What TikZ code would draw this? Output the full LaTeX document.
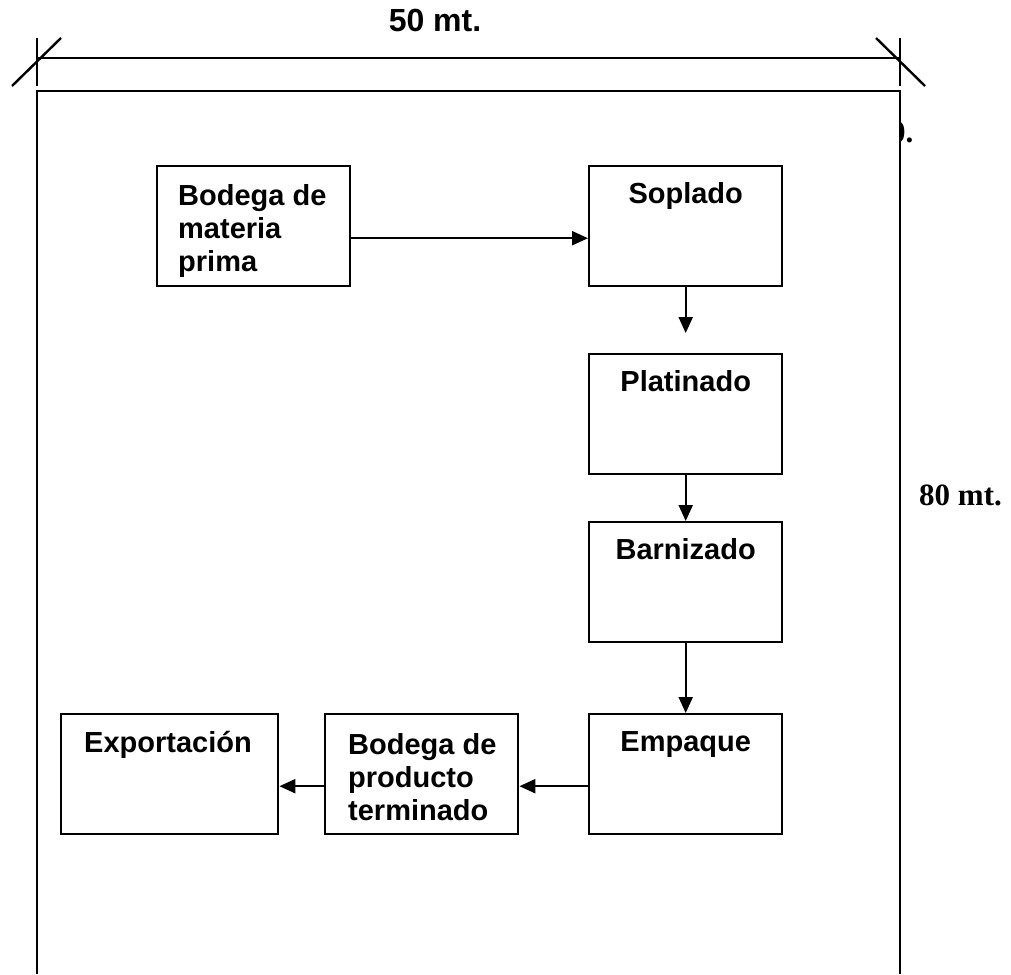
\documentclass[tikz,border=0pt]{standalone}
\usepackage{fontspec}
\setmainfont{Liberation Sans}
\newfontfamily\serifbold{Liberation Serif}
\usetikzlibrary{arrows.meta}
\begin{document}
\begin{tikzpicture}[x=1pt,y=-1pt,
  line width=2.4pt,
  procbox/.style={draw, rectangle, anchor=north west, inner sep=0pt,
    minimum width=193pt, minimum height=120pt},
  boxtext/.style={font=\fontsize{29}{33}\selectfont\bfseries, inner sep=0pt, align=left},
  flow/.style={-{Triangle[length=16pt,width=14pt]}, line width=2.2pt},
  dimline/.style={line width=2.4pt}]
\useasboundingbox (0,0) rectangle (1011,974);

% plant outline (open at the bottom)
\coordinate (pbl) at (37,974);
\coordinate (ptl) at (37,91);
\coordinate (ptr) at (900,91);
\coordinate (pbr) at (900,974);
\draw[line width=2.6pt] (pbl) -- (ptl) -- (ptr) -- (pbr);

% width dimension
\coordinate (dl) at (37,58);
\coordinate (dr) at (900,58);
\draw[dimline] (dl) -- (dr);
\draw[dimline] (37,38) -- (37,86);
\draw[dimline] (900,38) -- (900,86);
\draw[dimline] (12,86) -- (61,38);
\draw[dimline] (876,38) -- (925,86);
\node[font=\fontsize{32}{36}\selectfont\bfseries, anchor=base] (wlabel) at (435,32) {50 mt.};

% height label
\node[font=\fontsize{31}{36}\selectfont\serifbold\bfseries, anchor=base west, inner sep=0pt] (hlabel) at (918,505) {80 mt.};

% fragment of text hidden behind the wall
\begin{scope}
  \clip (901.5,100) rectangle (930,160);
  \node[font=\fontsize{31}{36}\selectfont\serifbold\bfseries, anchor=base west, inner sep=0pt] (frag) at (889,142) {0.};
\end{scope}

% process boxes
\node[procbox] (bmp) at (156,165) {};
\node[procbox] (sop) at (588,165) {};
\node[procbox] (pla) at (588,353) {};
\node[procbox] (bar) at (588,521) {};
\node[procbox] (emp) at (588,713) {};
\node[procbox] (bpt) at (324,713) {};
\node[procbox, minimum width=217pt] (exp) at (60,713) {};

% box titles
\node[boxtext, anchor=north west] (tbmp) at ([xshift=21pt,yshift=-18pt]bmp.north west) {Bodega de\\materia\\prima};
\node[boxtext, anchor=base] (tsop) at ([yshift=-38pt]sop.north) {Soplado};
\node[boxtext, anchor=base] (tpla) at ([yshift=-38pt]pla.north) {Platinado};
\node[boxtext, anchor=base] (tbar) at ([yshift=-38pt]bar.north) {Barnizado};
\node[boxtext, anchor=base] (temp) at ([yshift=-38pt]emp.north) {Empaque};
\node[boxtext, anchor=north west] (tbpt) at ([xshift=23pt,yshift=-19pt]bpt.north west) {Bodega de\\producto\\terminado};
\node[boxtext, anchor=base west] (texp) at ([xshift=23pt,yshift=-39pt]exp.north west) {Exportación};

% material flow
\draw[flow] ([yshift=-12pt]bmp.east) -- ([yshift=-12pt]sop.west);
\draw[flow] (sop.south) -- ([yshift=20pt]pla.north);
\draw[flow] (pla.south) -- (bar.north);
\draw[flow] (bar.south) -- (emp.north);
\draw[flow] ([yshift=-12pt]emp.west) -- ([yshift=-12pt]bpt.east);
\draw[flow] ([yshift=-12pt]bpt.west) -- ([yshift=-12pt]exp.east);
\end{tikzpicture}
\end{document}
